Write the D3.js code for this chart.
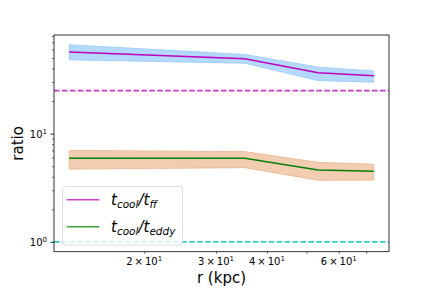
<!DOCTYPE html>
<html>
<head>
<meta charset="utf-8">
<script src="https://cdn.jsdelivr.net/npm/d3@7"></script>
<style>
  body { margin: 0; background: #fff; }
  text { font-family: "DejaVu Sans", sans-serif; fill: #000; }
</style>
</head>
<body>
<svg width="432" height="288"></svg>
<script>
// radii (kpc) and ratios
const radius = [13.1, 35.3, 53.4, 73.1];
const tffRatio = [57.0, 49.2, 36.6, 34.3];
const tffLow = [48.2, 44.8, 31.0, 29.9];
const tffHigh = [66.2, 53.9, 41.2, 37.9];
const eddyRatio = [5.92, 5.92, 4.61, 4.49];
const eddyLow = [4.71, 4.85, 3.71, 3.73];
const eddyHigh = [7.0, 6.82, 5.43, 5.21];
const thresholds = [25, 1];
const xTickVals = [20, 30, 40, 60];
const yTickVals = [1, 10];

const axL = 54, axR = 389, axT = 35, axB = 251.7;

const svg = d3.select('svg');

// log-space autoscale with 5% margins, like matplotlib
function logDomain(lo, hi) {
    const a = Math.log10(lo), b = Math.log10(hi);
    const m = (b - a) * 0.05;
    return [Math.pow(10, a - m), Math.pow(10, b + m)];
}

const x = d3.scaleLog()
    .domain(logDomain(d3.min(radius), d3.max(radius)))
    .range([axL, axR]);
const y = d3.scaleLog()
    .domain(logDomain(d3.min(thresholds), d3.max(tffHigh)))
    .range([axB, axT]);

svg.append('clipPath').attr('id', 'clip')
    .append('rect')
    .attr('x', axL).attr('y', axT)
    .attr('width', axR - axL).attr('height', axB - axT);

const plot = svg.append('g').attr('clip-path', 'url(#clip)');

const bands = [
    {lo: eddyLow, hi: eddyHigh, fill: '#f3cdb2', edge: '#ecbd9c'},
    {lo: tffLow, hi: tffHigh, fill: '#b5d9fd', edge: '#a3cffb'}
];

bands.forEach(b => {
    const area = d3.area()
        .x((d, i) => x(radius[i]))
        .y0((d, i) => y(b.lo[i]))
        .y1((d, i) => y(b.hi[i]));
    plot.append('path')
        .datum(radius)
        .attr('d', area)
        .attr('fill', b.fill)
        .attr('stroke', b.edge)
        .attr('stroke-width', 1);
});

const lines = [
    {vals: tffRatio, color: '#bf00bf'},
    {vals: eddyRatio, color: '#008000'}
];

lines.forEach(l => {
    const line = d3.line()
        .x((d, i) => x(radius[i]))
        .y((d, i) => y(l.vals[i]));
    plot.append('path')
        .datum(radius)
        .attr('d', line)
        .attr('fill', 'none')
        .attr('stroke', l.color)
        .attr('stroke-width', 1.5);
});

const hColors = ['#bf00bf', '#00bfbf'];
plot.selectAll('.hline')
    .data(thresholds)
    .enter()
    .append('line')
    .attr('x1', axL).attr('x2', axR)
    .attr('y1', d => y(d)).attr('y2', d => y(d))
    .attr('stroke', (d, i) => hColors[i])
    .attr('stroke-opacity', 0.8)
    .attr('stroke-width', 1.7)
    .attr('stroke-dasharray', '5.55,2.4');

// axes
const xAxis = d3.axisBottom(x)
    .tickValues(d3.range(20, 90, 10).filter(v => v <= x.domain()[1]))
    .tickSize(2)
    .tickFormat('');
svg.append('g')
    .attr('transform', 'translate(0,' + axB + ')')
    .call(xAxis)
    .call(g => g.select('.domain').remove())
    .call(g => g.selectAll('line').attr('stroke-width', 0.6));

const yMinor = [];
[1, 10].forEach(dec => {
    for (let k = 1; k < 10; k++) {
        const v = dec * k;
        if (v >= y.domain()[0] && v <= y.domain()[1]) yMinor.push(v);
    }
});
svg.append('g')
    .attr('transform', 'translate(' + axL + ',0)')
    .call(d3.axisLeft(y).tickValues(yMinor.filter(v => !yTickVals.includes(v))).tickSize(2).tickFormat(''))
    .call(g => g.select('.domain').remove())
    .call(g => g.selectAll('line').attr('stroke-width', 0.6));
svg.append('g')
    .attr('transform', 'translate(' + axL + ',0)')
    .call(d3.axisLeft(y).tickValues(yTickVals).tickSize(3.5).tickFormat(''))
    .call(g => g.select('.domain').remove())
    .call(g => g.selectAll('line').attr('stroke-width', 0.8));

// tick labels with superscripts
xTickVals.forEach(v => {
    const t = svg.append('text')
        .attr('x', x(v))
        .attr('y', 265)
        .attr('text-anchor', 'middle')
        .attr('font-size', 10);
    t.append('tspan').text((v / 10) + '\u2009\u00d7\u200910');
    t.append('tspan').attr('dy', -4).attr('font-size', 7).text('1');
});

yTickVals.forEach(v => {
    const t = svg.append('text')
        .attr('x', 47)
        .attr('y', y(v) + 4.5)
        .attr('text-anchor', 'end')
        .attr('font-size', 10);
    t.append('tspan').text('10');
    t.append('tspan').attr('dy', -4).attr('font-size', 7).text(Math.log10(v));
});

svg.append('rect')
    .attr('x', axL).attr('y', axT)
    .attr('width', axR - axL).attr('height', axB - axT)
    .attr('fill', 'none')
    .attr('stroke', '#000')
    .attr('stroke-width', 0.8);

svg.append('text')
    .attr('x', (axL + axR) / 2)
    .attr('y', 283)
    .attr('text-anchor', 'middle')
    .attr('font-size', 15)
    .text('r (kpc)');

svg.append('text')
    .attr('transform', 'translate(23,' + ((axT + axB) / 2) + ') rotate(-90)')
    .attr('text-anchor', 'middle')
    .attr('font-size', 15)
    .text('ratio');

// legend
const legend = svg.append('g');
legend.append('rect')
    .attr('x', 62.5).attr('y', 186.5)
    .attr('width', 120).attr('height', 58.5)
    .attr('rx', 3)
    .attr('fill', '#fff').attr('fill-opacity', 0.8)
    .attr('stroke', '#d6d6d6').attr('stroke-width', 0.8);

const legendItems = [
    {sub2: 'ff', color: '#bf00bf', ly: 199.7},
    {sub2: 'eddy', color: '#008000', ly: 226.7}
];
legendItems.forEach(item => {
    legend.append('line')
        .attr('x1', 66.7).attr('x2', 99.3)
        .attr('y1', item.ly).attr('y2', item.ly)
        .attr('stroke', item.color)
        .attr('stroke-opacity', 0.75)
        .attr('stroke-width', 1.5);
    const t = legend.append('text')
        .attr('x', 111)
        .attr('y', item.ly + 5.5)
        .attr('font-size', 15)
        .attr('font-style', 'italic');
    t.append('tspan').text('t');
    t.append('tspan').attr('dy', 3).attr('font-size', 10.5).text('cool');
    t.append('tspan').attr('dy', -3).text('/t');
    t.append('tspan').attr('dy', 3).attr('font-size', 10.5).text(item.sub2);
});
</script>
</body>
</html>
